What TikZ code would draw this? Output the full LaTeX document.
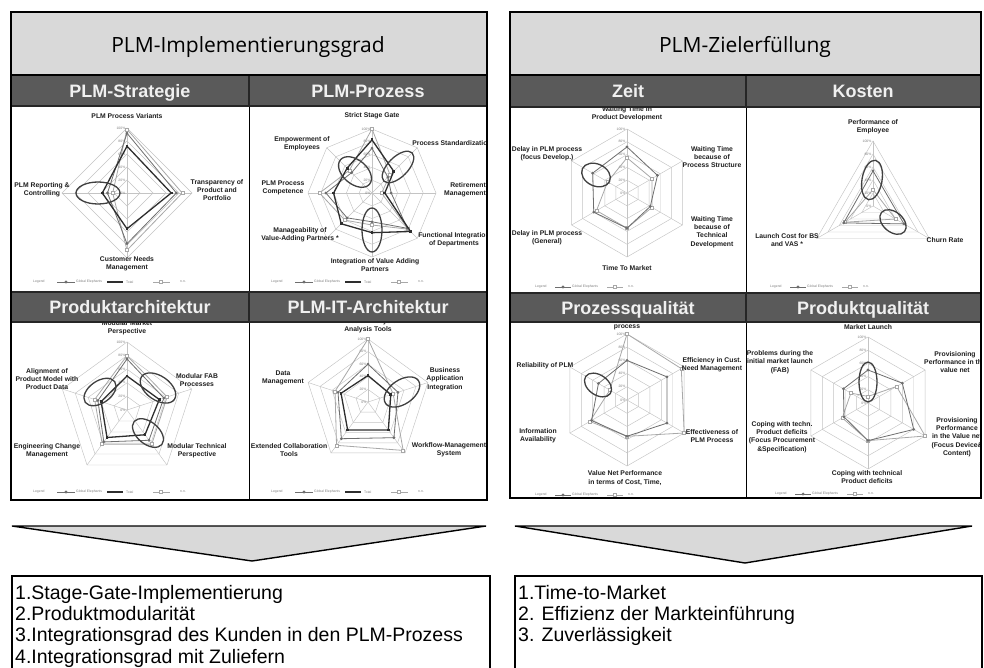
\documentclass[tikz,border=0pt]{standalone}
\usepackage{fontspec}
\setmainfont{Liberation Sans}
\newfontfamily\titlefont{Open Sans}
\usetikzlibrary{shapes.geometric}
\definecolor{hdrgray}{HTML}{5A5A5A}
\definecolor{titlegray}{HTML}{D9D9D9}
\definecolor{gridgray}{HTML}{C4C4C4}
\definecolor{gecol}{HTML}{6E6E6E}
\definecolor{totcol}{HTML}{2E2E2E}
\definecolor{nncol}{HTML}{A8A8A8}
\definecolor{ellcol}{HTML}{404040}
\definecolor{labcol}{HTML}{1E1E1E}
\tikzset{
 titlebox/.style={fill=titlegray, draw=black, line width=1.6pt},
 hdrbox/.style={fill=hdrgray, draw=black!85, line width=1.2pt},
 gridline/.style={draw=gridgray, line width=0.45pt},
 ge/.style={draw=gecol, line width=0.8pt},
 ge mark/.style={diamond, fill=gecol, inner sep=0pt, minimum size=3.2pt},
 tot/.style={draw=totcol, line width=1.3pt},
 tot mark/.style={rectangle, fill=totcol, inner sep=0pt, minimum size=2.8pt},
 nn/.style={draw=nncol, line width=0.8pt},
 nn mark/.style={rectangle, draw=nncol, fill=white, line width=0.5pt, inner sep=0pt, minimum size=3pt},
 hl/.style={draw=ellcol, line width=1.3pt},
 axlab/.style={font=\bfseries\fontsize{6.8}{8.3}\selectfont, text=labcol, align=center, inner sep=0pt},
 pct/.style={font=\fontsize{3.4}{4}\selectfont, text=gray, inner sep=0pt},
 leg/.style={font=\fontsize{3.4}{4}\selectfont, text=gray, inner sep=0pt, anchor=west},
 hdrtext/.style={font=\bfseries\fontsize{18}{20}\selectfont, text=white!94!black, anchor=base, inner sep=0pt},
 titletext/.style={font=\titlefont\fontsize{21}{24}\selectfont, text=black, anchor=base, inner sep=0pt},
 listtext/.style={font=\fontsize{19.5}{21.3}\selectfont, align=left, anchor=north west, inner sep=0pt},
 arrowtri/.style={fill=titlegray, draw=black, line width=1.4pt, line join=miter},
}
\newcommand\rgrid[2]{%
 \pgfmathtruncatemacro\rlast{#1-1}
 \foreach \k in {0.2,0.4,0.6,0.8,1.0}{
  \draw[gridline] (90:{\k*#2}) \foreach \i in {1,...,\rlast}{-- ({90-360*\i/#1}:{\k*#2})} -- cycle;
 }
 \foreach \i in {0,...,\rlast} \draw[gridline] (0,0) -- ({90-360*\i/#1}:#2);
 \foreach \k/\pl in {0/0\%,0.2/20\%,0.4/40\%,0.6/60\%,0.8/80\%,1/100\%} \node[pct, anchor=east] at (-1.5,{\k*#2}) {\pl};
}
\newcommand\rseries[4]{%
 \pgfmathtruncatemacro\rlast{#2-1}
 \foreach \val [count=\i from 0] in {#4} {\coordinate (rs\i) at ({90-360*\i/#2}:{\val*#3});}
 \draw[#1] (rs0) \foreach \i in {1,...,\rlast}{-- (rs\i)} -- cycle;
 \foreach \i in {0,...,\rlast} \node[#1 mark] at (rs\i) {};
}
\newcommand\legthree[2]{%
 \node[leg] at (#1,#2) {Legend};
 \draw[ge] (#1+24,#2) -- (#1+42,#2); \node[ge mark] at (#1+33,#2) {};
 \node[leg] at (#1+43,#2) {Global Elephants};
 \draw[tot] (#1+74,#2) -- (#1+90,#2); \node[tot mark] at (#1+82,#2) {};
 \node[leg] at (#1+93,#2) {Total};
 \draw[nn] (#1+120,#2) -- (#1+137,#2); \node[nn mark] at (#1+128,#2) {};
 \node[leg] at (#1+147,#2) {n.n.};
}
\newcommand\legtwo[2]{%
 \node[leg] at (#1,#2) {Legend};
 \draw[ge] (#1+20,#2) -- (#1+36,#2); \node[ge mark] at (#1+28,#2) {};
 \node[leg] at (#1+37,#2) {Global Elephants};
 \draw[nn] (#1+72,#2) -- (#1+88,#2); \node[nn mark] at (#1+80,#2) {};
 \node[leg] at (#1+93,#2) {n.n.};
}
\begin{document}
\begin{tikzpicture}[x=1pt,y=1pt]
\useasboundingbox (0,0) rectangle (984,-668);
\path[clip] (0,0) rectangle (984,-668);
\fill[white] (0,0) rectangle (984,-668);

% ---------- chart areas ----------
\fill[white] (11,-106) rectangle (487,-500);
\fill[white] (510,-107) rectangle (981,-498);

% Chart 1: PLM-Strategie
\begin{scope}
\clip (11,-106) rectangle (249,-292);
\begin{scope}[shift={(127,-193)}]
\rgrid{4}{65}
\rseries{nn}{4}{65}{0.98,0.85,0.88,0.22}
\rseries{ge}{4}{65}{0.92,0.76,0.78,0.3}
\rseries{tot}{4}{65}{0.72,0.68,0.55,0.38}
\end{scope}
\draw[hl] (98,-193) ellipse [x radius=22, y radius=11];
\node[axlab] (a1) at (127,-116) {PLM Process Variants};
\node[axlab] (a2) at (217,-190) {Transparency of\\Product and\\Portfolio};
\node[axlab] (a3) at (127,-264) {Customer Needs\\Management};
\node[axlab] (a4) at (42,-190) {PLM Reporting \&\\Controlling};
\legthree{33}{-282}
\end{scope}

% Chart 2: PLM-Prozess
\begin{scope}
\clip (249,-106) rectangle (487,-292);
\begin{scope}[shift={(372,-193)}]
\rgrid{8}{64}
\rseries{nn}{8}{64}{1.0,0.4,0.15,0.8,0.5,0.6,0.82,0.5}
\rseries{ge}{8}{64}{0.7,0.35,0.3,0.78,0.45,0.55,0.72,0.45}
\rseries{tot}{8}{64}{0.83,0.48,0.2,0.85,0.62,0.68,0.6,0.55}
\end{scope}
\draw[hl, rotate around={-40:(355,-172)}] (355,-172) ellipse [x radius=19, y radius=12];
\draw[hl, rotate around={45:(398,-167)}] (398,-167) ellipse [x radius=20, y radius=10];
\draw[hl] (372,-230) ellipse [x radius=10, y radius=22];
\node[axlab] (b1) at (372,-116) {Strict Stage Gate};
\node[axlab] (b2) at (452,-143) {Process Standardization};
\node[axlab, align=right, anchor=east] (b3) at (486,-190) {Retirement\\Management};
\node[axlab] (b4) at (454,-240) {Functional Integration\\of Departments};
\node[axlab] (b5) at (375,-265) {Integration of Value Adding\\Partners};
\node[axlab] (b6) at (300,-235) {Manageability of\\Value-Adding Partners *};
\node[axlab] (b7) at (283,-188) {PLM Process\\Competence};
\node[axlab] (b8) at (302,-144) {Empowerment of\\Employees};
\legthree{271}{-282}
\end{scope}

% Chart 3: Produktarchitektur
\begin{scope}
\clip (11,-322) rectangle (249,-500);
\begin{scope}[shift={(127,-410)}]
\rgrid{5}{68}
\rseries{nn}{5}{68}{0.8,0.62,0.62,0.62,0.5}
\rseries{ge}{5}{68}{0.75,0.57,0.55,0.58,0.45}
\rseries{tot}{5}{68}{0.5,0.5,0.45,0.5,0.4}
\end{scope}
\draw[hl, rotate around={35:(100,-392)}] (100,-392) ellipse [x radius=18, y radius=11];
\draw[hl, rotate around={-35:(158,-388)}] (158,-388) ellipse [x radius=20, y radius=12];
\draw[hl, rotate around={-40:(148,-433)}] (148,-433) ellipse [x radius=18, y radius=11];
\node[axlab] (c1) at (127,-328) {Modular Market\\Perspective};
\node[axlab] (c2) at (197,-380) {Modular FAB\\Processes};
\node[axlab] (c3) at (197,-451) {Modular Technical\\Perspective};
\node[axlab] (c4) at (47,-451) {Engineering Change\\Management};
\node[axlab] (c5) at (47,-379) {Alignment of\\Product Model with\\Product Data};
\legthree{33}{-492}
\end{scope}

% Chart 4: PLM-IT-Architektur
\begin{scope}
\clip (249,-322) rectangle (487,-500);
\begin{scope}[shift={(368,-402)}]
\rgrid{5}{63}
\rseries{nn}{5}{63}{1.0,0.42,0.95,0.85,0.55}
\rseries{ge}{5}{63}{0.6,0.5,0.7,0.72,0.5}
\rseries{tot}{5}{63}{0.42,0.38,0.55,0.55,0.45}
\end{scope}
\draw[hl, rotate around={35:(402,-392)}] (402,-392) ellipse [x radius=20, y radius=12];
\node[axlab] (d1) at (368,-326) {Product Lifecycle\\Analysis Tools};
\node[axlab] (d2) at (445,-379) {Business\\Application\\Integration};
\node[axlab] (d3) at (449,-450) {Workflow-Management\\System};
\node[axlab] (d4) at (289,-450) {Extended Collaboration\\Tools};
\node[axlab] (d5) at (283,-378) {Data\\Management};
\legthree{271}{-492}
\end{scope}

% Chart 5: Zeit
\begin{scope}
\clip (510,-107) rectangle (746,-293);
\begin{scope}[shift={(627,-193)}]
\rgrid{6}{64}
\rseries{nn}{6}{64}{0.55,0.45,0.45,0.55,0.55,0.35}
\rseries{ge}{6}{64}{0.72,0.55,0.42,0.55,0.6,0.62}
\end{scope}
\draw[hl, rotate around={-25:(596,-175)}] (596,-175) ellipse [x radius=15, y radius=11];
\node[axlab] (e1) at (627,-114) {Waiting Time in\\Product Development};
\node[axlab] (e2) at (712,-157) {Waiting Time\\because of\\Process Structure};
\node[axlab] (e3) at (712,-232) {Waiting Time\\because of\\Technical\\Development};
\node[axlab] (e4) at (627,-268) {Time To Market};
\node[axlab] (e5) at (547,-238) {Delay in PLM process\\(General)};
\node[axlab] (e6) at (547,-154) {Delay in PLM process\\(focus Develop.)};
\legtwo{535}{-287}
\end{scope}

% Chart 6: Kosten
\begin{scope}
\clip (746,-107) rectangle (981,-293);
\begin{scope}[shift={(873,-206)}]
\rgrid{3}{65}
\rseries{nn}{3}{65}{0.25,0.4,0.5}
\rseries{ge}{3}{65}{0.54,0.55,0.52}
\end{scope}
\draw[hl, rotate around={-10:(872,-180)}] (872,-180) ellipse [x radius=10, y radius=20];
\draw[hl, rotate around={-40:(893,-222)}] (893,-222) ellipse [x radius=15, y radius=10];
\node[axlab] (f1) at (873,-127) {Performance of\\Employee};
\node[axlab] (f2) at (787,-240) {Launch Cost for BS\\and VAS *};
\node[axlab] (f3) at (945,-240) {Churn Rate};
\legtwo{770}{-287}
\end{scope}

% Chart 7: Prozessqualitaet
\begin{scope}
\clip (510,-322) rectangle (746,-498);
\begin{scope}[shift={(627,-400)}]
\rgrid{6}{66}
\rseries{nn}{6}{66}{1.0,0.95,1.0,0.55,0.65,0.3}
\rseries{ge}{6}{66}{0.6,0.7,0.7,0.55,0.62,0.5}
\end{scope}
\draw[hl, rotate around={-35:(598,-385)}] (598,-385) ellipse [x radius=15, y radius=10];
\node[axlab] (g1) at (627,-327) {process};
\node[axlab] (g2) at (712,-365) {Efficiency in Cust.\\Need Management};
\node[axlab] (g3) at (712,-436) {Effectiveness of\\PLM Process};
\node[axlab] (g4) at (625,-478) {Value Net Performance\\in terms of Cost, Time,};
\node[axlab] (g5) at (538,-436) {Information\\Availability};
\node[axlab] (g6) at (545,-366) {Reliability of PLM};
\legtwo{535}{-495}
\end{scope}

% Chart 8: Produktqualitaet
\begin{scope}
\clip (746,-322) rectangle (981,-498);
\begin{scope}[shift={(868,-403)}]
\rgrid{6}{66}
\rseries{nn}{6}{66}{0.1,0.5,1.0,0.57,0.45,0.3}
\rseries{ge}{6}{66}{0.5,0.6,0.8,0.57,0.42,0.43}
\end{scope}
\draw[hl] (868,-382) ellipse [x radius=9, y radius=20];
\node[axlab] (h1) at (868,-327) {Market Launch};
\node[axlab] (h2) at (955,-362) {Provisioning\\Performance in the\\value net};
\node[axlab] (h3) at (957,-437) {Provisioning\\Performance\\in the Value net\\(Focus Device\&\\Content)};
\node[axlab] (h4) at (867,-477) {Coping with technical\\Product deficits};
\node[axlab] (h5) at (782,-437) {Coping with techn.\\Product deficits\\(Focus Procurement\\\&Specification)};
\node[axlab] (h6) at (780,-362) {Problems during the\\initial market launch\\(FAB)};
\legtwo{775}{-494}
\end{scope}

% ---------- chart borders ----------
\draw[line width=1pt] (11,-106) rectangle (249,-292);
\draw[line width=1pt] (249,-106) rectangle (487,-292);
\draw[line width=1pt] (11,-322) rectangle (249,-500);
\draw[line width=1pt] (249,-322) rectangle (487,-500);
\draw[line width=1pt] (510,-107) rectangle (746,-293);
\draw[line width=1pt] (746,-107) rectangle (981,-293);
\draw[line width=1pt] (510,-322) rectangle (746,-498);
\draw[line width=1pt] (746,-322) rectangle (981,-498);

% ---------- headers ----------
\draw[hdrbox] (11,-75) rectangle (249,-106);
\draw[hdrbox] (249,-75) rectangle (487,-106);
\draw[hdrbox] (11,-292) rectangle (249,-322);
\draw[hdrbox] (249,-292) rectangle (487,-322);
\draw[hdrbox] (510,-75) rectangle (746,-107);
\draw[hdrbox] (746,-75) rectangle (981,-107);
\draw[hdrbox] (510,-293) rectangle (746,-322);
\draw[hdrbox] (746,-293) rectangle (981,-322);
\node[hdrtext] (h1t) at (130,-97.5) {PLM-Strategie};
\node[hdrtext] (h2t) at (368,-97.5) {PLM-Prozess};
\node[hdrtext] (h3t) at (130,-313.5) {Produktarchitektur};
\node[hdrtext] (h4t) at (368,-313.5) {PLM-IT-Architektur};
\node[hdrtext] (h5t) at (628,-98) {Zeit};
\node[hdrtext] (h6t) at (863,-98) {Kosten};
\node[hdrtext] (h7t) at (628,-314) {Prozessqualität};
\node[hdrtext] (h8t) at (863,-314) {Produktqualität};

% ---------- title boxes ----------
\draw[titlebox] (11,-12) rectangle (487,-75);
\draw[titlebox] (510,-12) rectangle (981,-75);
\node[titletext] (tl) at (248,-53) {PLM-Implementierungsgrad};
\node[titletext] (tr) at (745,-53) {PLM-Zielerfüllung};

% outer frames
\draw[line width=1.6pt] (11,-12) rectangle (487,-500);
\draw[line width=1.6pt] (510,-12) rectangle (981,-498);

% ---------- arrows ----------
\draw[arrowtri] (12,-526) -- (486,-526) -- (252,-561) -- cycle;
\draw[arrowtri] (515,-526) -- (972,-526) -- (745,-563) -- cycle;

% ---------- result boxes ----------
\draw[line width=1.2pt] (12,-576) rectangle (490,-690);
\draw[line width=1.2pt] (515,-576) rectangle (982,-690);
\node[listtext] (ll) at (15,-585) {1.Stage-Gate-Implementierung\\2.Produktmodularität\\3.Integrationsgrad des Kunden in den PLM-Prozess\\4.Integrationsgrad mit Zuliefern};
\node[listtext] (rl) at (518,-585) {1.Time-to-Market\\2. Effizienz der Markteinführung\\3. Zuverlässigkeit};
\end{tikzpicture}
\end{document}
